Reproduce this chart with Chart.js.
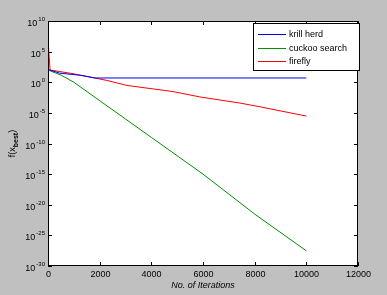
<!DOCTYPE html>
<html>
<head>
<meta charset="utf-8">
<script src="https://cdn.jsdelivr.net/npm/chart.js@4/dist/chart.umd.min.js"></script>
<style>
  html, body { margin: 0; padding: 0; background: #c0c0c0; }
  #wrap { width: 387px; height: 295px; }
</style>
</head>
<body>
<div id="wrap"><canvas id="chart" width="387" height="295"></canvas></div>
<script>
// Data
const krillIter = [0, 460, 1240, 1820, 10000];
const krillVals = [1.2e2, 3e1, 1.4e1, 5, 5];

const cuckooIter = [0, 500, 1000, 2000, 3000, 4000, 6000, 8000, 10000];
const cuckooVals = [1e2, 1.5e1, 1e0, 1e-3, 1e-6, 1e-9, 1e-15, 3e-22, 3e-28];

const fireflyIter = [0, 80, 970, 2280, 3060, 4840, 5880, 7430, 8200, 10000];
const fireflyVals = [8e6, 1e2, 2.5e1, 2, 3e-1, 3e-2, 4e-3, 4e-4, 1e-4, 3e-6];

const xTicks = [0, 2000, 4000, 6000, 8000, 10000, 12000];
const yTickExps = [10, 5, 0, -5, -10, -15, -20, -25, -30];

const seriesNames = ["krill herd", "cuckoo search", "firefly"];
const seriesColors = ["#0000ff", "#009000", "#ff0000"];

const font = "'Liberation Sans', Arial, sans-serif";

function pts(xs, ys) {
  return xs.map((x, i) => ({ x: x, y: ys[i] }));
}

// MATLAB-style frame, inward ticks, tick labels with exponents, titles, legend
const axesPlugin = {
  id: "matlabAxes",
  afterDraw(chart) {
    const ctx = chart.ctx;
    const a = chart.chartArea;
    const xs = chart.scales.x;
    const ys = chart.scales.y;
    ctx.save();
    ctx.strokeStyle = "#000";
    ctx.lineWidth = 1;
    ctx.strokeRect(a.left + 0.5, a.top + 0.5, a.right - a.left - 1, a.bottom - a.top - 1);

    ctx.fillStyle = "#000";
    ctx.font = "9px " + font;
    ctx.textAlign = "center";
    ctx.textBaseline = "top";
    xTicks.forEach(t => {
      const px = Math.round(xs.getPixelForValue(t)) + 0.5;
      ctx.beginPath();
      ctx.moveTo(px, a.bottom); ctx.lineTo(px, a.bottom - 4);
      ctx.moveTo(px, a.top); ctx.lineTo(px, a.top + 4);
      ctx.stroke();
      ctx.fillText(String(t), px, a.bottom + 4);
    });

    yTickExps.forEach(e => {
      const py = Math.round(ys.getPixelForValue(Math.pow(10, e))) + 0.5;
      ctx.beginPath();
      ctx.moveTo(a.left, py); ctx.lineTo(a.left + 4, py);
      ctx.moveTo(a.right, py); ctx.lineTo(a.right - 4, py);
      ctx.stroke();
      const es = String(e);
      ctx.font = "6px " + font;
      const ew = ctx.measureText(es).width;
      ctx.textAlign = "right";
      ctx.textBaseline = "alphabetic";
      ctx.fillText(es, a.left - 3, py - 1);
      ctx.font = "9px " + font;
      ctx.fillText("10", a.left - 4 - ew, py + 4);
    });

    // x title
    ctx.font = "italic 9px " + font;
    ctx.textAlign = "center";
    ctx.textBaseline = "top";
    ctx.fillText("No. of Iterations", (a.left + a.right) / 2, a.bottom + 15);

    // y title
    ctx.translate(15, (a.top + a.bottom) / 2);
    ctx.rotate(-Math.PI / 2);
    ctx.textAlign = "left";
    ctx.textBaseline = "alphabetic";
    ctx.font = "9px " + font;
    const p1 = "f(x";
    const w1 = ctx.measureText(p1).width;
    ctx.font = "bold 7px " + font;
    const p2 = "best";
    const w2 = ctx.measureText(p2).width;
    ctx.font = "9px " + font;
    const w3 = ctx.measureText(")").width;
    const x0 = -(w1 + w2 + w3) / 2;
    ctx.fillText(p1, x0, 0);
    ctx.font = "bold 7px " + font;
    ctx.fillText(p2, x0 + w1, 3);
    ctx.font = "9px " + font;
    ctx.fillText(")", x0 + w1 + w2, 0);
    ctx.restore();

    // legend box
    const lx = 253, ly = 23, lw = 106, lh = 47;
    ctx.save();
    ctx.fillStyle = "#fff";
    ctx.fillRect(lx, ly, lw, lh);
    ctx.lineWidth = 1;
    ctx.strokeStyle = "#000";
    ctx.strokeRect(lx + 0.5, ly + 0.5, lw, lh);
    ctx.font = "9px " + font;
    ctx.textAlign = "left";
    ctx.textBaseline = "middle";
    for (let i = 0; i < seriesNames.length; i++) {
      const yy = ly + 11 + Math.round(i * 13.5);
      ctx.fillStyle = seriesColors[i];
      ctx.fillRect(lx + 5, yy, 28, 1);
      ctx.fillStyle = "#000";
      ctx.fillText(seriesNames[i], lx + 36, yy + 0.5);
    }
    ctx.restore();
  }
};

const bgPlugin = {
  id: "bg",
  beforeDraw(chart) {
    const ctx = chart.ctx;
    const a = chart.chartArea;
    ctx.save();
    ctx.fillStyle = "#c0c0c0";
    ctx.fillRect(0, 0, chart.width, chart.height);
    ctx.fillStyle = "#fff";
    ctx.fillRect(a.left, a.top, a.right - a.left, a.bottom - a.top);
    ctx.restore();
  }
};

new Chart(document.getElementById("chart"), {
  type: "line",
  data: {
    datasets: [
      { label: seriesNames[0], data: pts(krillIter, krillVals) },
      { label: seriesNames[1], data: pts(cuckooIter, cuckooVals) },
      { label: seriesNames[2], data: pts(fireflyIter, fireflyVals) }
    ].map((d, i) => Object.assign(d, {
      borderColor: seriesColors[i],
      borderWidth: 1,
      pointRadius: 0,
      tension: 0,
      fill: false
    }))
  },
  options: {
    responsive: false,
    animation: false,
    layout: { padding: { top: 21, right: 29, left: 0, bottom: 0 } },
    plugins: { legend: { display: false }, tooltip: { enabled: false } },
    scales: {
      x: {
        type: "linear",
        min: 0,
        max: 12000,
        grid: { display: false },
        border: { display: false },
        ticks: { display: false },
        afterFit(s) { s.height = 29; }
      },
      y: {
        type: "logarithmic",
        min: 1e-30,
        max: 1e10,
        grid: { display: false },
        border: { display: false },
        ticks: { display: false },
        afterFit(s) { s.width = 48; }
      }
    }
  },
  plugins: [bgPlugin, axesPlugin]
});
</script>
</body>
</html>
